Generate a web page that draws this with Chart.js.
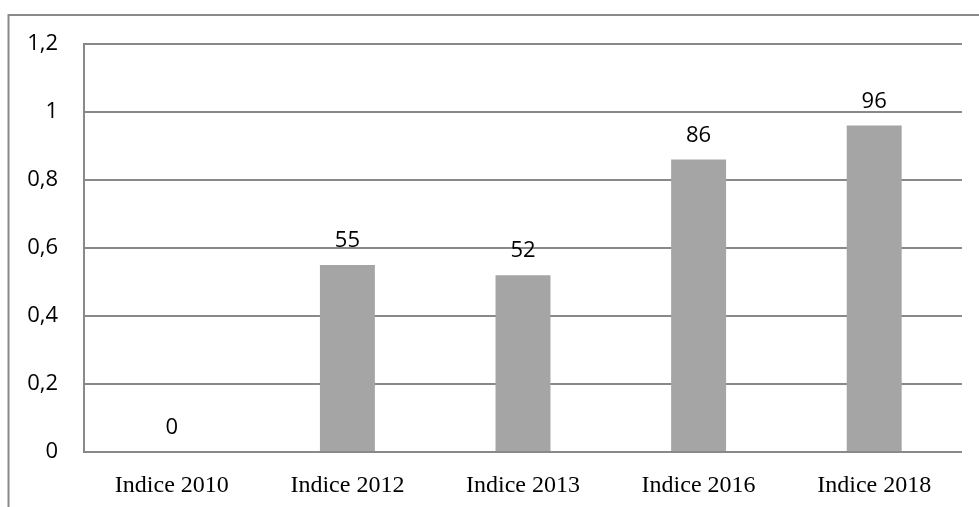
<!DOCTYPE html>
<html>
<head>
<meta charset="utf-8">
<script src="https://cdn.jsdelivr.net/npm/chart.js@4"></script>
<style>
  html, body { margin: 0; padding: 0; background: #fff; }
  #wrap { width: 979px; height: 507px; position: relative; }
</style>
</head>
<body>
<div id="wrap"><canvas id="myChart"></canvas></div>
<script>
const categories = ['Indice 2010', 'Indice 2012', 'Indice 2013', 'Indice 2016', 'Indice 2018'];
const values = [0, 0.55, 0.52, 0.86, 0.96];
const valueLabels = ['0', '55', '52', '86', '96'];
const yTickLabels = ['0', '0,2', '0,4', '0,6', '0,8', '1', '1,2'];

const gridColor = '#898989';
const ctx = document.getElementById('myChart');

// outer frame of the picture (only top and left edges are visible)
const framePlugin = {
  id: 'frame',
  beforeDraw(chart) {
    const c = chart.ctx;
    c.save();
    c.strokeStyle = gridColor;
    c.lineWidth = 2;
    c.beginPath();
    c.moveTo(8.5, 507);
    c.lineTo(8.5, 15);
    c.lineTo(979, 15);
    c.stroke();
    c.restore();
  }
};

// value labels above bars
const valueLabelPlugin = {
  id: 'valueLabels',
  afterDatasetsDraw(chart) {
    const c = chart.ctx;
    const meta = chart.getDatasetMeta(0);
    c.save();
    c.font = '22px "Open Sans"';
    c.fillStyle = '#000';
    c.textAlign = 'center';
    c.textBaseline = 'middle';
    meta.data.forEach((bar, i) => {
      c.fillText(valueLabels[i], bar.x, bar.y - 24);
    });
    c.restore();
  }
};

const chart = new Chart(ctx, {
  type: 'bar',
  data: {
    labels: categories,
    datasets: [{
      data: values,
      backgroundColor: '#a5a5a5',
      borderWidth: 0,
      categoryPercentage: 1,
      barPercentage: 0.313
    }]
  },
  options: {
    responsive: true,
    maintainAspectRatio: false,
    animation: false,
    layout: { padding: { left: 0, top: 44, right: 17, bottom: 0 } },
    plugins: {
      legend: { display: false },
      tooltip: { enabled: false }
    },
    scales: {
      x: {
        grid: { display: false, drawTicks: false },
        border: { display: false },
        ticks: {
          padding: 19,
          color: '#000',
          maxRotation: 0,
          font: { family: '"Liberation Serif"', size: 24 }
        },
        afterFit(scale) { scale.height = 55; }
      },
      y: {
        min: 0,
        max: 1.2,
        grid: { color: gridColor, lineWidth: 2, drawTicks: false },
        border: { display: true, color: gridColor, width: 2 },
        ticks: {
          stepSize: 0.2,
          padding: 26,
          color: '#000',
          font: { family: '"Open Sans"', size: 22 },
          callback: (v, i) => yTickLabels[i]
        },
        afterFit(scale) { scale.width = 84; }
      }
    }
  },
  plugins: [framePlugin, valueLabelPlugin]
});
</script>
</body>
</html>
